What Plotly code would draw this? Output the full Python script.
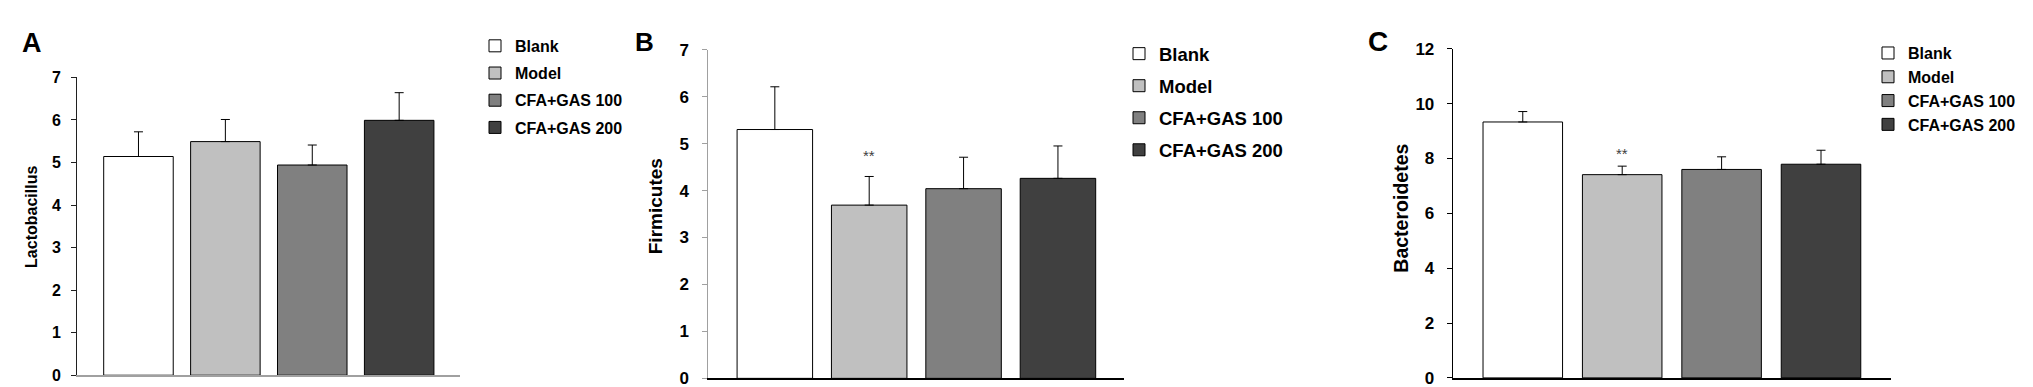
import plotly.graph_objects as go

W, H = 2033, 387

groups = ["Blank", "Model", "CFA+GAS 100", "CFA+GAS 200"]
colors = ["#ffffff", "#c0c0c0", "#808080", "#404040"]

lacto_mean = [5.14, 5.49, 4.94, 5.99]
lacto_err = [0.58, 0.52, 0.47, 0.65]
firm_mean = [5.30, 3.69, 4.04, 4.26]
firm_err = [0.91, 0.61, 0.67, 0.69]
bact_mean = [9.33, 7.41, 7.60, 7.79]
bact_err = [0.38, 0.31, 0.46, 0.51]

panel_letters = ["A", "B", "C"]
y_titles = ["Lactobacillus", "Firmicutes", "Bacteroidetes"]
y_ranges = [[0, 7], [0, 7], [0, 12]]
y_dticks = [1, 1, 2]
sig_marks = [[], ["**"], ["**"]]  # marks over Model
sig_group = "Model"

FONT = "Liberation Sans, Arial, sans-serif"

def px_x(p):
    return p / W

def px_y(p):
    return 1 - p / H

# layout geometry (pixels)
panels = [
    dict(x0=69.2, x1=452, y0=375.7, y1=63.3, yc="#202020", xc="#a0a0a0",
         tick_size=16, standoff=7,
         leg_x=467, leg_y=12.5, leg_size=16, leg_gap=3.4,
         title_x=23.7, title_y=210, title_size=16,
         letter_x=24, letter_y=27.5, letter_size=27, sig_shift=0),
    dict(x0=700.3, x1=1116, y0=379, y1=34.3, yc="#a0a0a0", xc="#000000",
         tick_size=17, standoff=10,
         leg_x=1111, leg_y=19, leg_size=18.5, leg_gap=5,
         title_x=647.5, title_y=199, title_size=19,
         letter_x=636, letter_y=25.8, letter_size=26, sig_shift=20.5),
    dict(x0=1444.7, x1=1882.6, y0=378.5, y1=33.3, yc="#000000", xc="#000000",
         tick_size=17, standoff=9,
         leg_x=1860, leg_y=20, leg_size=16, leg_gap=0,
         title_x=1393, title_y=201, title_size=19.5,
         letter_x=1369.7, letter_y=25.5, letter_size=28, sig_shift=13),
]

means = [lacto_mean, firm_mean, bact_mean]
errs = [lacto_err, firm_err, bact_err]

fig = go.Figure()
layout = dict(
    width=W, height=H,
    margin=dict(l=0, r=0, t=0, b=0),
    paper_bgcolor="white", plot_bgcolor="white",
    barmode="overlay",
    showlegend=True,
    annotations=[],
)

for pi, pan in enumerate(panels):
    sfx = "" if pi == 0 else str(pi + 1)
    xa = "x" + sfx
    ya = "y" + sfx
    leg = "legend" + sfx
    for gi, g in enumerate(groups):
        fig.add_trace(go.Bar(
            x=[g], y=[means[pi][gi]],
            name=g,
            width=0.8,
            marker=dict(color=colors[gi], line=dict(color="#000000", width=1)),
            error_y=dict(type="data", symmetric=False, array=[errs[pi][gi]], arrayminus=[0],
                         color="#000000", thickness=1, width=4.5),
            xaxis=xa, yaxis=ya,
            legend=leg,
            legendgroup=f"p{pi}g{gi}",
            hoverinfo="skip",
        ))
    layout["xaxis" + sfx] = dict(
        domain=[px_x(pan["x0"]), px_x(pan["x1"])],
        anchor=ya,
        type="category",
        categoryorder="array", categoryarray=groups,
        range=[-0.705, 3.70],
        showticklabels=False, ticks="",
        showline=True, linecolor=pan["xc"], linewidth=1.5,
        showgrid=False, zeroline=False, fixedrange=True,
    )
    layout["yaxis" + sfx] = dict(
        domain=[px_y(pan["y0"]), px_y(pan["y1"])],
        anchor=xa,
        range=y_ranges[pi], dtick=y_dticks[pi], tick0=0,
        showline=True, linecolor=pan["yc"], linewidth=1,
        ticks="outside", ticklen=5, tickcolor=pan["yc"], tickwidth=1,
        tickfont=dict(family=FONT, size=pan["tick_size"], color="#000000", weight="bold"),
        ticklabelstandoff=pan["standoff"],
        showgrid=False, zeroline=False, fixedrange=True,
    )
    layout[leg] = dict(
        x=px_x(pan["leg_x"]), y=px_y(pan["leg_y"]),
        xanchor="left", yanchor="top",
        font=dict(family=FONT, size=pan["leg_size"], color="#000000", weight="bold"),
        tracegroupgap=pan["leg_gap"],
        bgcolor="rgba(0,0,0,0)",
        itemwidth=30,
    )
    layout["annotations"].append(dict(
        text=y_titles[pi], textangle=-90,
        x=px_x(pan["title_x"]), y=px_y(pan["title_y"]),
        xref="paper", yref="paper", xanchor="center", yanchor="middle",
        showarrow=False,
        font=dict(family=FONT, size=pan["title_size"], color="#000000", weight="bold"),
    ))
    layout["annotations"].append(dict(
        text=panel_letters[pi],
        x=px_x(pan["letter_x"]), y=px_y(pan["letter_y"]),
        xref="paper", yref="paper", xanchor="center", yanchor="middle",
        showarrow=False,
        font=dict(family=FONT, size=pan["letter_size"], color="#000000", weight="bold"),
    ))
    for mark in sig_marks[pi]:
        gi = groups.index(sig_group)
        layout["annotations"].append(dict(
            text=mark,
            x=sig_group, y=means[pi][gi] + errs[pi][gi],
            xref=xa, yref=ya, xanchor="center", yanchor="middle",
            yshift=pan["sig_shift"],
            showarrow=False,
            font=dict(family=FONT, size=15, color="#404040"),
        ))

fig.update_layout(**layout)
fig.write_html("out.html")
